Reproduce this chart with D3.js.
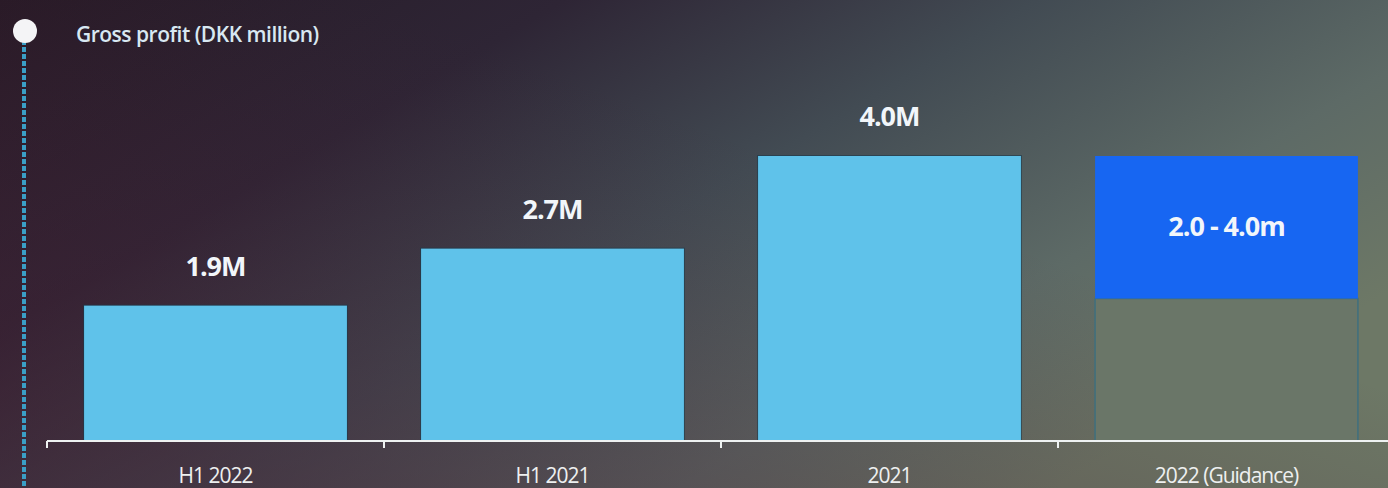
<!DOCTYPE html>
<html>
<head>
<meta charset="utf-8">
<script src="https://cdn.jsdelivr.net/npm/d3@7"></script>
<style>
  html, body { margin: 0; padding: 0; background: #2a1c2a; }
  svg { display: block; }
</style>
</head>
<body>
<svg id="chart" width="1388" height="488"></svg>
<script>
// gross profit, DKK million
var categories = ["H1 2022", "H1 2021", "2021", "2022 (Guidance)"];
var values = [1.9, 2.7, 4.0, 4.0];
var guidanceLow = [null, null, null, 2.0];
var valueLabels = ["1.9M", "2.7M", "4.0M", "2.0 - 4.0m"];
var title = "Gross profit (DKK million)";

var svg = d3.select("#chart");
var W = 1388, H = 488;

// background
var defs = svg.append("defs");
var bg = defs.append("linearGradient").attr("id", "bg")
  .attr("x1", "0").attr("y1", "0").attr("x2", "1").attr("y2", "0.6");
bg.append("stop").attr("offset", "0%").attr("stop-color", "#261a26");
bg.append("stop").attr("offset", "30%").attr("stop-color", "#2e2535");
bg.append("stop").attr("offset", "55%").attr("stop-color", "#424b53");
bg.append("stop").attr("offset", "80%").attr("stop-color", "#5d6a66");
bg.append("stop").attr("offset", "100%").attr("stop-color", "#6d7866");
svg.append("rect").attr("width", W).attr("height", H).attr("fill", "url(#bg)");

var shade = defs.append("linearGradient").attr("id", "shade")
  .attr("x1", "0").attr("y1", "0.8").attr("x2", "0.55").attr("y2", "0.3");
shade.append("stop").attr("offset", "0%").attr("stop-color", "#461d30").attr("stop-opacity", 0.45);
shade.append("stop").attr("offset", "100%").attr("stop-color", "#461d30").attr("stop-opacity", 0);
svg.append("rect").attr("width", W).attr("height", H).attr("fill", "url(#shade)");

var x = d3.scaleBand().domain(categories).range([47, 1395]).paddingInner(0.22).paddingOuter(0.11);
var y = d3.scaleLinear().domain([0, 4]).range([441, 156]);

// timeline on the left
svg.append("line")
  .attr("x1", 24).attr("x2", 24).attr("y1", 40).attr("y2", H)
  .attr("stroke", "#3a9fc6").attr("stroke-width", 4)
  .attr("stroke-dasharray", "5,2");
svg.append("circle").attr("cx", 25).attr("cy", 31).attr("r", 12).attr("fill", "#f4f4f6");

svg.append("text")
  .attr("x", 76).attr("y", 42)
  .attr("font-family", "'Open Sans', sans-serif").attr("font-weight", 600)
  .attr("font-size", 21).attr("letter-spacing", "-0.5")
  .attr("fill", "#d8e8f2")
  .text(title);

// bars
var bars = svg.append("g");
categories.forEach(function(c, i) {
  if (guidanceLow[i] !== null) {
    // outline for guidance base
    bars.append("rect")
      .attr("x", x(c)).attr("width", x.bandwidth())
      .attr("y", y(guidanceLow[i])).attr("height", y(0) - y(guidanceLow[i]))
      .attr("fill", "#6a7668").attr("stroke", "#3f6f7e").attr("stroke-width", 1.5);
    bars.append("rect")
      .attr("x", x(c)).attr("width", x.bandwidth())
      .attr("y", y(values[i])).attr("height", y(guidanceLow[i]) - y(values[i]))
      .attr("fill", "#1766f2");
    bars.append("text")
      .attr("x", x(c) + x.bandwidth() / 2)
      .attr("y", (y(values[i]) + y(guidanceLow[i])) / 2 + 9)
      .attr("text-anchor", "middle")
      .attr("font-family", "'Open Sans', sans-serif").attr("font-weight", 700)
      .attr("font-size", 27).attr("letter-spacing", "-1")
      .attr("fill", "#f2f6fa")
      .text(valueLabels[i]);
  } else {
    bars.append("rect")
      .attr("x", x(c) - 1).attr("width", x.bandwidth() + 2)
      .attr("y", y(values[i]) - 1).attr("height", y(0) - y(values[i]) + 1)
      .attr("fill", "#1b3a4c").attr("opacity", 0.6);
    bars.append("rect")
      .attr("x", x(c)).attr("width", x.bandwidth())
      .attr("y", y(values[i])).attr("height", y(0) - y(values[i]))
      .attr("fill", "#5fc2ea");
    bars.append("text")
      .attr("x", x(c) + x.bandwidth() / 2)
      .attr("y", y(values[i]) - 30)
      .attr("text-anchor", "middle")
      .attr("font-family", "'Open Sans', sans-serif").attr("font-weight", 700)
      .attr("font-size", 27).attr("letter-spacing", "-1")
      .attr("fill", "#f2f6fa")
      .text(valueLabels[i]);
  }
});

// x axis
var axis = svg.append("g");
axis.append("line")
  .attr("x1", 47).attr("x2", W).attr("y1", 441).attr("y2", 441)
  .attr("stroke", "#eef2f2").attr("stroke-width", 2);
var bounds = categories.map(function(c) { return x(c) - x.step() * x.paddingInner() / 2; });
axis.selectAll(".tick").data(bounds).enter().append("line")
  .attr("x1", function(d) { return d; }).attr("x2", function(d) { return d; })
  .attr("y1", 441).attr("y2", 448)
  .attr("stroke", "#eef2f2").attr("stroke-width", 2);
axis.selectAll(".lbl").data(categories).enter().append("text")
  .attr("x", function(d) { return x(d) + x.bandwidth() / 2; })
  .attr("y", 483)
  .attr("text-anchor", "middle")
  .attr("font-family", "'Open Sans', sans-serif")
  .attr("font-size", 21).attr("letter-spacing", "-1")
  .attr("fill", "#eef0f0")
  .text(function(d) { return d; });
</script>
</body>
</html>
